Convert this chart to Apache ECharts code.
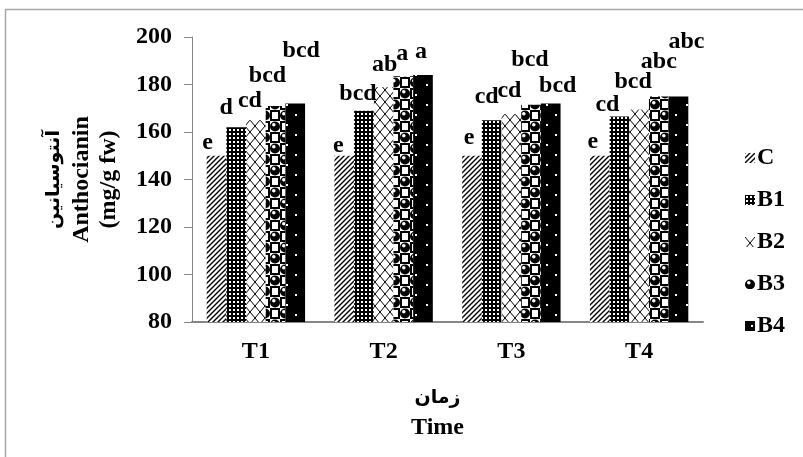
<!DOCTYPE html>
<html>
<head>
<meta charset="utf-8">
<script src="https://cdn.jsdelivr.net/npm/echarts@6/dist/echarts.min.js"></script>
<style>
  html, body { margin: 0; padding: 0; background: #fff; }
  #chart { width: 803px; height: 457px; }
</style>
</head>
<body>
<div id="chart"></div>
<script>
// data
const categories = ['T1', 'T2', 'T3', 'T4'];
const seriesNames = ['C', 'B1', 'B2', 'B3', 'B4'];
const valC = [150, 150, 150, 150];
const valB1 = [162, 169, 165, 166.5];
const valB2 = [165, 179, 167.5, 169.5];
const valB3 = [171, 183.5, 171.5, 175];
const valB4 = [172, 184, 172, 175];
// significance letters
const letC = ['e', 'e', 'e', 'e'];
const letB1 = ['d', 'bcd', 'cd', 'cd'];
const letB2 = ['cd', 'ab', 'cd', 'bcd'];
const letB3 = ['bcd', 'a', 'bcd', 'abc'];
const letB4 = ['bcd', 'a', 'bcd', 'abc'];
const yMin = 80, yMax = 200, yStep = 20;

// label nudges (px) so letters sit like the original
const shiftC = [[-9, -1], [-6, 2], [-3, -6], [-7, -2]];
const shiftB1 = [[-10, -7], [-6, -5], [-5, -11], [-12, 0]];
const shiftB2 = [[-6, -7], [1, -10], [-2, -11], [-6, -16]];
const shiftB3 = [[-8, -18], [-1, -10], [-1, -33], [0, -23]];
const shiftB4 = [[6, -41], [-2, -11], [7, -6], [8, -43]];

const values = [valC, valB1, valB2, valB3, valB4];
const letters = [letC, letB1, letB2, letB3, letB4];
const shifts = [shiftC, shiftB1, shiftB2, shiftB3, shiftB4];

const FONT = "'Liberation Serif', 'Times New Roman', 'DejaVu Sans', serif";

// fill patterns like the Excel ones
function pattern(w, h, draw) {
  const c = document.createElement('canvas');
  c.width = w; c.height = h;
  const ctx = c.getContext('2d');
  draw(ctx, w, h);
  return { image: c, repeat: 'repeat' };
}

const patterns = [
  // C: diagonal hatch
  pattern(5, 5, (ctx, w, h) => {
    ctx.fillStyle = '#fff'; ctx.fillRect(0, 0, w, h);
    ctx.strokeStyle = '#000'; ctx.lineWidth = 1.4;
    ctx.beginPath();
    ctx.moveTo(-1, h + 1); ctx.lineTo(w + 1, -1);
    ctx.moveTo(-1, 1); ctx.lineTo(1, -1);
    ctx.moveTo(w - 1, h + 1); ctx.lineTo(w + 1, h - 1);
    ctx.stroke();
  }),
  // B1: dense grid
  pattern(4, 4, (ctx, w, h) => {
    ctx.fillStyle = '#000'; ctx.fillRect(0, 0, w, h);
    ctx.fillStyle = '#fff'; ctx.fillRect(1, 1, 2, 2);
  }),
  // B2: wide cross hatch
  pattern(10, 12, (ctx, w, h) => {
    ctx.fillStyle = '#fff'; ctx.fillRect(0, 0, w, h);
    ctx.strokeStyle = '#000'; ctx.lineWidth = 1;
    ctx.beginPath();
    ctx.moveTo(0, 0); ctx.lineTo(w, h);
    ctx.moveTo(w, 0); ctx.lineTo(0, h);
    ctx.stroke();
  }),
  // B3: balls and boxes
  pattern(20, 22, (ctx, w, h) => {
    ctx.fillStyle = '#fff'; ctx.fillRect(0, 0, w, h);
    ctx.fillStyle = '#000';
    ctx.beginPath(); ctx.arc(5, 5.5, 5, 0, Math.PI * 2); ctx.fill();
    ctx.beginPath(); ctx.arc(15, 16.5, 5, 0, Math.PI * 2); ctx.fill();
    ctx.strokeStyle = '#000'; ctx.lineWidth = 2;
    ctx.strokeRect(11, 1, 8, 9);
    ctx.strokeRect(1, 12, 8, 9);
    ctx.fillStyle = '#fff';
    ctx.beginPath(); ctx.arc(3.8, 3.8, 1.8, 0, Math.PI * 2); ctx.fill();
    ctx.beginPath(); ctx.arc(13.8, 14.8, 1.8, 0, Math.PI * 2); ctx.fill();
  }),
  // B4: black with sparse white dots
  pattern(20, 20, (ctx, w, h) => {
    ctx.fillStyle = '#000'; ctx.fillRect(0, 0, w, h);
    ctx.fillStyle = '#fff';
    ctx.fillRect(6, 4, 2, 2);
    ctx.fillRect(15, 14, 2, 2);
  })
];

const series = seriesNames.map((name, i) => ({
  name: name,
  type: 'bar',
  barGap: '0%',
  barCategoryGap: '23%',
  itemStyle: { color: patterns[i] },
  label: {
    show: true,
    position: 'top',
    distance: 0,
    fontFamily: FONT,
    fontWeight: 'bold',
    fontSize: 24,
    lineHeight: 24,
    color: '#000'
  },
  data: values[i].map((v, j) => ({
    value: v,
    label: { formatter: letters[i][j], offset: [shifts[i][j][0], shifts[i][j][1]] }
  }))
}));

const faStyle = { fontFamily: "'DejaVu Sans', sans-serif", fontWeight: 'bold', fontSize: 19, color: '#000' };

const chart = echarts.init(document.getElementById('chart'), null, { renderer: 'canvas' });
chart.setOption({
  animation: false,
  backgroundColor: '#fff',
  textStyle: { fontFamily: FONT },
  graphic: [{
    type: 'rect',
    shape: { x: 5.5, y: 9.5, width: 1000, height: 1000 },
    style: { fill: 'none', stroke: '#a6a6a6', lineWidth: 1.5 },
    silent: true
  }],
  grid: { left: 192, right: 100, top: 37, bottom: 135 },
  legend: {
    orient: 'vertical',
    left: 740,
    top: 141,
    itemWidth: 10,
    itemHeight: 10,
    itemGap: 18,
    icon: 'rect',
    data: seriesNames,
    textStyle: { fontFamily: FONT, fontWeight: 'bold', fontSize: 24, color: '#000', padding: [0, 0, 0, -3] }
  },
  xAxis: {
    type: 'category',
    data: categories,
    name: '{fa|زمان}\nTime',
    nameLocation: 'middle',
    nameGap: 62,
    nameTextStyle: {
      fontFamily: FONT, fontWeight: 'bold', fontSize: 24, lineHeight: 29, color: '#000',
      padding: [0, 20, 0, 0],
      rich: { fa: Object.assign({ lineHeight: 29 }, faStyle) }
    },
    axisLine: { lineStyle: { color: '#868686', width: 2 } },
    axisTick: { show: false },
    axisLabel: { fontFamily: FONT, fontWeight: 'bold', fontSize: 24, color: '#000', margin: 18 }
  },
  yAxis: {
    type: 'value',
    min: yMin,
    max: yMax,
    interval: yStep,
    name: '{fa|آنتوسیانین}\nAnthocianin\n(mg/g fw)',
    nameLocation: 'middle',
    nameRotate: 90,
    nameGap: 70,
    nameTextStyle: {
      fontFamily: FONT, fontWeight: 'bold', fontSize: 24, lineHeight: 27, color: '#000',
      rich: { fa: Object.assign({ lineHeight: 27 }, faStyle) }
    },
    axisLine: { show: true, lineStyle: { color: '#868686', width: 1 } },
    axisTick: { show: true, length: 8, lineStyle: { color: '#868686' } },
    splitLine: { show: false },
    axisLabel: { fontFamily: FONT, fontWeight: 'bold', fontSize: 24, color: '#000', margin: 20 }
  },
  series: series
});
</script>
</body>
</html>
